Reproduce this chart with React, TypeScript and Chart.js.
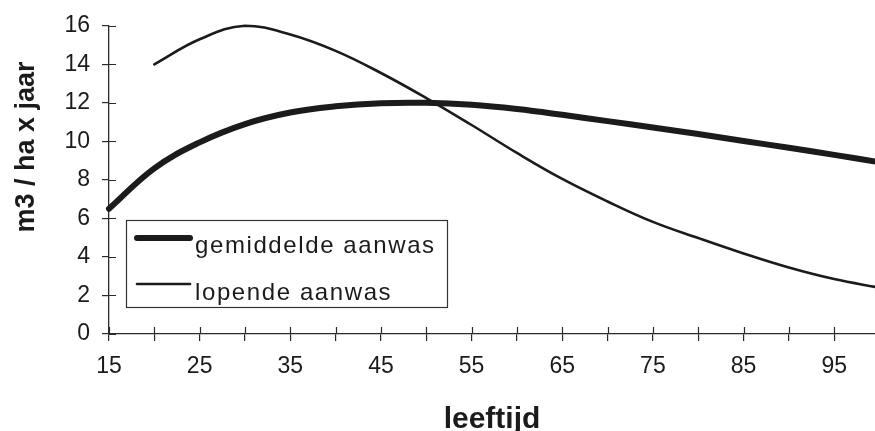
import React, { useEffect, useRef } from "react";
import { Chart, registerables } from "chart.js";

Chart.register(...registerables);

// ---- data ----
const AGES_AVG = [15, 20, 25, 30, 35, 40, 45, 50, 55, 60, 65, 70, 75, 80, 85, 90, 95, 100];
const AVG_GROWTH = [6.5, 8.6, 9.95, 10.9, 11.5, 11.82, 11.98, 12.0, 11.9, 11.68, 11.38, 11.05, 10.72, 10.38, 10.02, 9.67, 9.3, 8.92];
const AGES_CUR = [20, 25, 30, 35, 40, 45, 50, 55, 60, 65, 70, 75, 80, 85, 90, 95, 100];
const CUR_GROWTH = [14.0, 15.3, 16.0, 15.55, 14.7, 13.55, 12.25, 10.85, 9.4, 8.05, 6.88, 5.82, 4.98, 4.18, 3.45, 2.85, 2.4];
const X_LABELED = [15, 25, 35, 45, 55, 65, 75, 85, 95];
const SERIES_NAMES = ["gemiddelde aanwas", "lopende aanwas"];
const X_TITLE = "leeftijd";
const Y_TITLE = "m3 / ha x jaar";

const FONT = "'Liberation Sans', Arial, Helvetica, sans-serif";
const INK = "#1b1b1b";
const AXIS = "#2a2a2a";

const decorPlugin = {
  id: "decor",
  afterDraw(chart: any) {
    const ctx = chart.ctx as CanvasRenderingContext2D;
    const xs = chart.scales.x;
    const ys = chart.scales.y;
    const { left, bottom } = chart.chartArea;
    ctx.save();
    // inner halves of the tick marks (ticks cross the axes)
    ctx.strokeStyle = AXIS;
    ctx.lineWidth = 1.2;
    ctx.beginPath();
    xs.ticks.forEach((t: any) => {
      const px = Math.round(xs.getPixelForValue(t.value)) + 0.5;
      ctx.moveTo(px, bottom);
      ctx.lineTo(px, bottom - 7);
    });
    ys.ticks.forEach((t: any) => {
      const py = Math.round(ys.getPixelForValue(t.value)) + 0.5;
      ctx.moveTo(left, py);
      ctx.lineTo(left + 7, py);
    });
    ctx.stroke();

    // y-axis title
    ctx.save();
    ctx.translate(27, 147);
    ctx.rotate(-Math.PI / 2);
    ctx.font = `bold 27px ${FONT}`;
    ctx.fillStyle = INK;
    ctx.textAlign = "center";
    ctx.textBaseline = "middle";
    ctx.fillText(Y_TITLE, 0, 0);
    ctx.restore();

    // legend box inside the plot area
    const bx = left + 17;
    const by = 220;
    const bw = 321;
    const bh = 87;
    ctx.fillStyle = "#ffffff";
    ctx.fillRect(bx, by, bw, bh);
    ctx.strokeStyle = "#333333";
    ctx.lineWidth = 1.2;
    ctx.strokeRect(bx + 0.5, by + 0.5, bw, bh);
    const rows = [
      { sampleY: by + 18, baseY: by + 33 },
      { sampleY: by + 64, baseY: by + 80 },
    ];
    chart.data.datasets.forEach((ds: any, i: number) => {
      const r = rows[i];
      ctx.strokeStyle = ds.borderColor;
      ctx.lineWidth = ds.borderWidth;
      ctx.lineCap = "round";
      ctx.beginPath();
      ctx.moveTo(bx + 11, r.sampleY);
      ctx.lineTo(bx + 64, r.sampleY);
      ctx.stroke();
      ctx.fillStyle = INK;
      ctx.font = `24px ${FONT}`;
      (ctx as any).letterSpacing = "1.6px";
      ctx.textAlign = "left";
      ctx.textBaseline = "alphabetic";
      ctx.fillText(ds.label, bx + 69, r.baseY);
      (ctx as any).letterSpacing = "0px";
    });
    ctx.restore();
  },
};

export default function App() {
  const ref = useRef<HTMLCanvasElement | null>(null);

  useEffect(() => {
    if (!ref.current) return;
    const chart = new Chart(ref.current, {
      type: "line",
      data: {
        datasets: [
          {
            label: SERIES_NAMES[0],
            data: AGES_AVG.map((a, i) => ({ x: a, y: AVG_GROWTH[i] })),
            borderColor: INK,
            borderWidth: 6,
            borderCapStyle: "round",
            borderJoinStyle: "round",
            pointRadius: 0,
            tension: 0.4,
            clip: false,
            fill: false,
          },
          {
            label: SERIES_NAMES[1],
            data: AGES_CUR.map((a, i) => ({ x: a, y: CUR_GROWTH[i] })),
            borderColor: INK,
            borderWidth: 2.6,
            borderCapStyle: "round",
            borderJoinStyle: "round",
            pointRadius: 0,
            tension: 0.4,
            clip: false,
            fill: false,
          },
        ],
      },
      options: {
        animation: false,
        responsive: false,
        devicePixelRatio: 1,
        layout: { padding: { top: 22, right: 0, bottom: 0, left: 0 } },
        plugins: { legend: { display: false }, tooltip: { enabled: false } },
        scales: {
          x: {
            type: "linear",
            min: 15,
            max: 99.5,
            afterFit: (s: any) => {
              s.height = 97;
            },
            ticks: {
              stepSize: 5,
              includeBounds: false,
              autoSkip: false,
              maxRotation: 0,
              padding: 12,
              color: INK,
              font: { family: FONT, size: 23 },
              callback: (v: any) => (X_LABELED.includes(Number(v)) ? String(v) : ""),
            },
            grid: { drawOnChartArea: false, drawTicks: true, tickLength: 7, color: AXIS, lineWidth: 1.2 },
            border: { display: true, color: AXIS, width: 1.3 },
            title: {
              display: true,
              text: X_TITLE,
              color: INK,
              font: { family: FONT, size: 30, weight: "bold", lineHeight: 1 },
              padding: { top: 0, bottom: -4 },
            },
          },
          y: {
            min: 0,
            max: 16,
            afterFit: (s: any) => {
              s.width = 109;
            },
            ticks: {
              stepSize: 2,
              padding: 12,
              color: INK,
              font: { family: FONT, size: 23 },
            },
            grid: { drawOnChartArea: false, drawTicks: true, tickLength: 7, color: AXIS, lineWidth: 1.2 },
            border: { display: true, color: AXIS, width: 1.3 },
          },
        },
      },
      plugins: [decorPlugin],
    } as any);
    return () => chart.destroy();
  }, []);

  return (
    <div style={{ position: "fixed", left: 0, top: 0, width: 875, height: 431, background: "#ffffff" }}>
      <canvas ref={ref} width={875} height={431} style={{ display: "block", width: 875, height: 431 }} />
    </div>
  );
}
